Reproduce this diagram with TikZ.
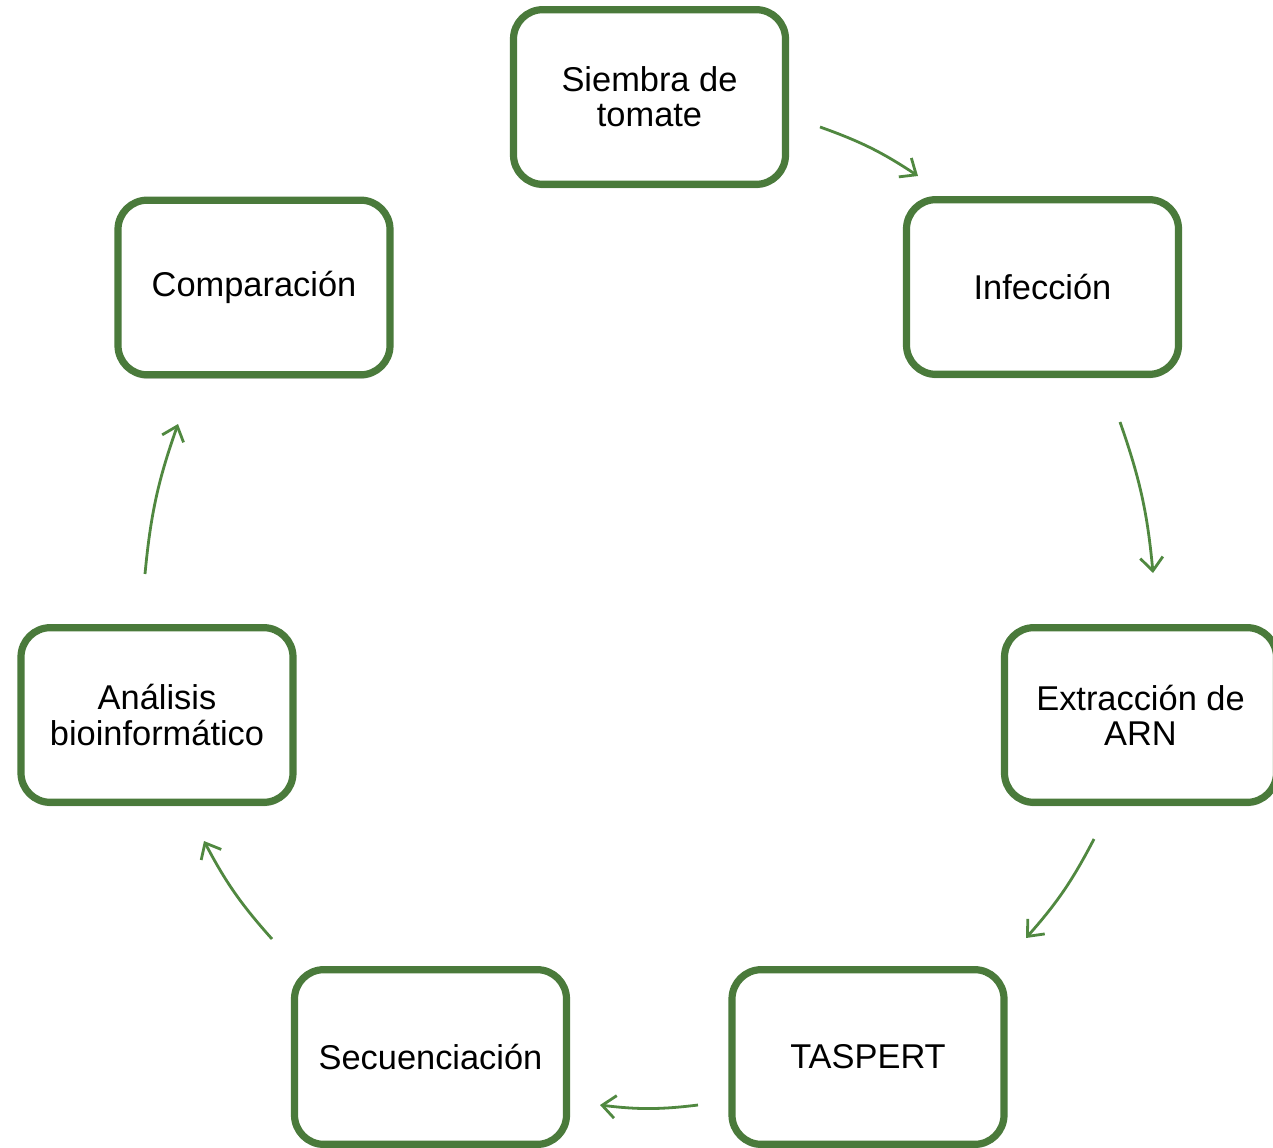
\documentclass[tikz,border=0pt]{standalone}
\usepackage{fontspec}
\setmainfont{Liberation Sans}
\usetikzlibrary{arrows.meta,shadows}
\definecolor{boxgreen}{RGB}{74,122,59}
\definecolor{arrgreen}{RGB}{80,136,64}
\begin{document}
\begin{tikzpicture}[x=0.75pt,y=0.75pt,
  stepbox/.style={draw=boxgreen, line width=5.4pt, fill=white, rounded corners=22pt,
    minimum width=204pt, minimum height=131pt, align=center,
    font=\fontsize{25.8}{26.3}\selectfont, inner sep=2pt,
    drop shadow={shadow xshift=0pt, shadow yshift=-3pt, opacity=0.25, fill=black!60}},
  flow/.style={draw=arrgreen, line width=2.1pt, bend left=7,
    -{Straight Barb[length=10pt,width=17pt,line width=2.1pt]}}]
\useasboundingbox (0,0) rectangle (1273,-1148);
\node[stepbox] (s1) at (649.5,-97) {Siembra de\\tomate};
\node[stepbox] (s2) at (1042.5,-287) {Infección};
\node[stepbox] (s3) at (1140.5,-715) {Extracción de\\ARN};
\node[stepbox] (s4) at (868,-1057) {TASPERT};
\node[stepbox] (s5) at (430.5,-1057) {Secuenciación};
\node[stepbox] (s6) at (157,-715) {Análisis\\bioinformático};
\node[stepbox] (s7) at (254,-287.5) {Comparación};
\coordinate (a1s) at (820,-127); \coordinate (a1e) at (918,-176);
\coordinate (a2s) at (1120,-422); \coordinate (a2e) at (1153,-573);
\coordinate (a3s) at (1094,-839); \coordinate (a3e) at (1026,-938);
\coordinate (a4s) at (698,-1105); \coordinate (a4e) at (600,-1105);
\coordinate (a5s) at (272,-939); \coordinate (a5e) at (204,-841);
\coordinate (a6s) at (145,-574); \coordinate (a6e) at (178,-424);
\draw[flow] (a1s) to (a1e);
\draw[flow] (a2s) to (a2e);
\draw[flow] (a3s) to (a3e);
\draw[flow] (a4s) to (a4e);
\draw[flow] (a5s) to (a5e);
\draw[flow] (a6s) to (a6e);
\end{tikzpicture}
\end{document}
